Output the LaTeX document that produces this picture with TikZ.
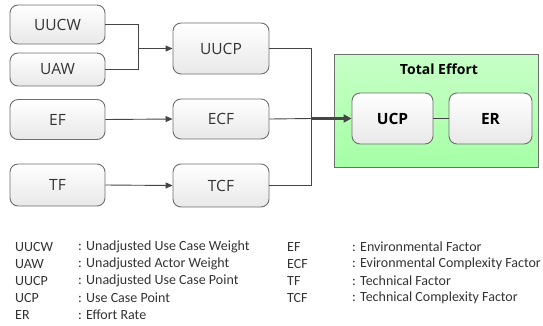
\documentclass[tikz,border=0pt]{standalone}
\usepackage{fontspec}
\setmainfont{Carlito}
\newfontfamily\boxfont{Open Sans}
\usetikzlibrary{arrows.meta}
\definecolor{bordergray}{HTML}{6E6E6E}
\definecolor{linegray}{HTML}{454545}
\definecolor{txtgray}{HTML}{333333}
\tikzset{
  box/.style={draw=bordergray, line width=0.9pt, rounded corners=8pt, top color=white, bottom color=black!9, font=\boxfont\fontsize{15.5}{18}\selectfont, text=txtgray, inner sep=0pt},
  boldbox/.style={box, font=\boxfont\fontsize{15.5}{18}\selectfont\bfseries, text=black},
  conn/.style={draw=linegray, line width=0.9pt},
  arr/.style={conn, -{Triangle[length=7pt,width=6pt]}},
  thickarr/.style={draw=linegray, line width=2.4pt, -{Triangle[length=8pt,width=8pt]}},
  leg/.style={anchor=west, font=\fontsize{14}{16}\selectfont, text=txtgray, inner sep=0pt},
}
\begin{document}
\begin{tikzpicture}[x=1pt,y=-1pt]
\useasboundingbox (0,0) rectangle (543,325);
% green container
\node[draw=bordergray, line width=0.9pt, top color=green!22, bottom color=green!35!white, minimum width=204pt, minimum height=113pt, inner sep=0pt] (TE) at (436,110.5) {};
\node[font=\boxfont\fontsize{14}{17}\selectfont\bfseries, text=black] (TEl) at (439,69) {Total Effort};
% left column
\node[box, minimum width=95pt, minimum height=39pt] (UUCW) at (57.5,24.5) {UUCW};
\node[box, minimum width=95pt, minimum height=33pt] (UAW) at (57.5,69.5) {UAW};
\node[box, minimum width=95pt, minimum height=40pt] (EF) at (57.5,119.5) {EF};
\node[box, minimum width=95pt, minimum height=42pt] (TF) at (57.5,185) {TF};
% middle column
\node[box, minimum width=96pt, minimum height=51pt] (UUCP) at (221,48.5) {UUCP};
\node[box, minimum width=96pt, minimum height=40pt] (ECF) at (221,119) {ECF};
\node[box, minimum width=96pt, minimum height=43pt] (TCF) at (221,185.5) {TCF};
% inner
\node[boldbox, minimum width=81pt, minimum height=51pt] (UCP) at (392.5,118.5) {UCP};
\node[boldbox, minimum width=83pt, minimum height=51pt] (ER) at (490.5,118.5) {ER};
% connectors
\coordinate (j1) at (138,48.5);
\coordinate (j2) at (311,118.5);
\draw[conn] (UUCW.east) -| (j1);
\draw[conn] (UAW.east) -| (j1);
\draw[arr] (j1) -- (UUCP.west);
\draw[arr] (EF.east) -- (ECF.west);
\draw[arr] (TF.east) -- (TCF.west);
\draw[conn] (UUCP.east) -| (j2);
\draw[conn] (TCF.east) -| (j2);
\draw[conn] (ECF.east) -- (j2);
\draw[thickarr] (j2) -- (UCP.west);
\draw[conn] (UCP.east) -- (ER.west);
% legend
\node[leg] (l1a) at (15,247) {UUCW};  \node[leg] (l1b) at (78,247) {: Unadjusted Use Case Weight};
\node[leg] (l2a) at (15,264) {UAW};   \node[leg] (l2b) at (78,264) {: Unadjusted Actor Weight};
\node[leg] (l3a) at (15,281) {UUCP};  \node[leg] (l3b) at (78,281) {: Unadjusted Use Case Point};
\node[leg] (l4a) at (15,298) {UCP};   \node[leg] (l4b) at (78,298) {: Use Case Point};
\node[leg] (l5a) at (15,315) {ER};    \node[leg] (l5b) at (78,315) {: Effort Rate};
\node[leg] (r1a) at (287,247) {EF};   \node[leg] (r1b) at (352,247) {: Environmental Factor};
\node[leg] (r2a) at (287,264) {ECF};  \node[leg] (r2b) at (352,264) {: Evironmental Complexity Factor};
\node[leg] (r3a) at (287,281) {TF};   \node[leg] (r3b) at (352,281) {: Technical Factor};
\node[leg] (r4a) at (287,298) {TCF};  \node[leg] (r4b) at (352,298) {: Technical Complexity Factor};
\end{tikzpicture}
\end{document}
